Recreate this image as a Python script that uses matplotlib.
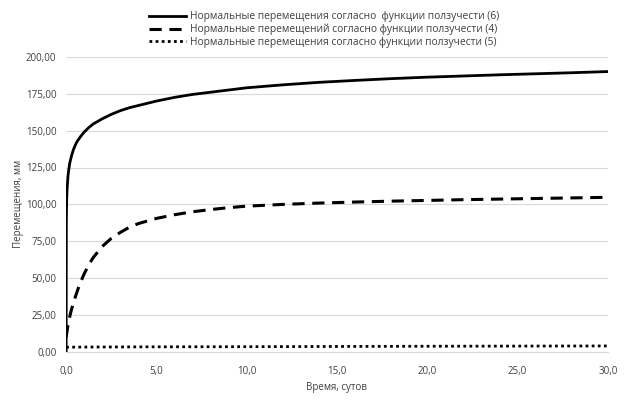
import matplotlib
matplotlib.use("Agg")
import matplotlib.pyplot as plt
from matplotlib.ticker import FuncFormatter

plt.rcParams['font.family'] = ['Open Sans', 'DejaVu Sans']

t6 = [0, 0.01, 0.03, 0.05, 0.1, 0.15, 0.2, 0.3, 0.4, 0.5, 0.6, 0.8, 1.0, 1.25, 1.5, 2, 2.5, 3, 3.5, 4,
      5, 6, 7, 8, 9, 10, 12, 14, 16, 18, 20, 22, 24, 26, 28, 30]
u6 = [0, 88, 103, 110, 119, 124, 128, 133, 137, 140, 142.5, 146, 149, 152, 154.5, 158, 161, 163.5, 165.5, 167,
      170, 172.5, 174.5, 176, 177.5, 179, 181, 182.7, 184, 185.2, 186.2, 187, 187.8, 188.5, 189.2, 190]

t4 = [0, 0.1, 0.2, 0.3, 0.5, 0.75, 1, 1.25, 1.5, 2, 2.5, 3, 3.5, 4, 5, 6, 7, 8, 9, 10,
      12, 14, 16, 18, 20, 22, 24, 26, 28, 30]
u4 = [10, 18, 24, 29, 37, 46, 53, 59, 64, 71.5, 77, 81, 84.5, 87, 90.5, 93, 95, 96.5, 97.8, 98.8,
      100, 100.9, 101.6, 102.2, 102.7, 103.2, 103.6, 104, 104.4, 104.8]

t5 = [0, 0.5, 2, 5, 10, 15, 20, 25, 30]
u5 = [3.2, 3.3, 3.4, 3.5, 3.6, 3.75, 3.9, 4.0, 4.1]

labels = ["Нормальные перемещения согласно  функции ползучести (6)",
          "Нормальные перемещений согласно функции ползучести (4)",
          "Нормальные перемещения согласно функции ползучести (5)"]

fig = plt.figure(figsize=(6.24, 4.0), dpi=100)
ax = fig.add_axes([0.106, 0.12, 0.868, 0.738])

ax.plot(t6, u6, color='black', lw=2.0, linestyle='-', label=labels[0])
ax.plot(t4, u4, color='black', lw=2.2, linestyle=(0, (4, 2.5)), label=labels[1])
ax.plot(t5, u5, color='black', lw=2.0, linestyle=(0, (1, 1.2)), label=labels[2])

ax.set_xlim(0, 30)
ax.set_ylim(0, 200)
ax.set_xticks([0, 5, 10, 15, 20, 25, 30])
ax.set_yticks([0, 25, 50, 75, 100, 125, 150, 175, 200])
ax.xaxis.set_major_formatter(FuncFormatter(lambda v, p: f"{v:.1f}".replace('.', ',')))
ax.yaxis.set_major_formatter(FuncFormatter(lambda v, p: f"{v:.2f}".replace('.', ',')))
ax.tick_params(axis='x', length=0, labelsize=7, colors='#404040', pad=10)
ax.tick_params(axis='y', length=0, labelsize=7, colors='#404040', pad=7)
ax.grid(axis='y', color='#d9d9d9', lw=0.8)
ax.set_axisbelow(True)
for s in ['top', 'right', 'left']:
    ax.spines[s].set_visible(False)
ax.spines['bottom'].set_color('#d9d9d9')

ax.set_xlabel("Время, сутов", fontsize=7, color='#404040', labelpad=4)
ax.set_ylabel("Перемещения, мм", fontsize=7, color='#404040', labelpad=1)

leg = fig.legend(loc='upper center', bbox_to_anchor=(0.519, 0.995), frameon=False,
                 fontsize=7.4, handlelength=3.6, labelspacing=0.15, handletextpad=0.4)
for txt in leg.get_texts():
    txt.set_color('#404040')

fig.savefig("out.png", dpi=100, facecolor='white')
